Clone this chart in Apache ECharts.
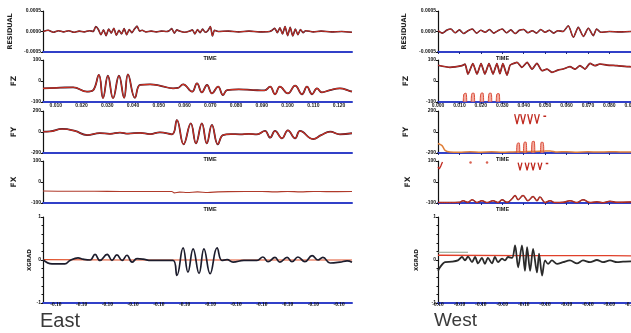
<!DOCTYPE html>
<html><head><meta charset="utf-8">
<script src="https://cdn.jsdelivr.net/npm/echarts@6/dist/echarts.min.js"></script>
<style>html,body{margin:0;padding:0;background:#fff}#c{width:631px;height:333px}</style>
</head><body><div id="c"></div>
<script>
// ---------- data ----------
const panelNames = ['RESIDUAL','FZ','FY','FX','XGRAD'];
const yMin = [-0.0005,-100,-200,-100,-1];
const yMax = [0.0005,100,200,100,1];
const yStep = [0.0005,100,200,100,1];
const eastTickLabels = ['0.010','0.020','0.030','0.040','0.050','0.060','0.070','0.080','0.090','0.100','0.110','0.120'];
const westTickLabels = ['0.000','0.010','0.020','0.030','0.040','0.050','0.060','0.070','0.080','0.090','0.100','0.110','0.120'];
const xgradTickLabels = ['-0.10','-0.10','-0.10','-0.10','-0.10','-0.10','-0.10','-0.10','-0.10','-0.10','-0.10','-0.10','-0.10'];
const timeName = 'TIME';
const columnTitles = ['East','West'];

const eastResidual = [[0,0],[2,0.00003],[4,-0.00002],[6,0.00002],[8,-0.00001],[10,0.00002],[12,-0.00002],[14,0.00001],[16,-0.00001],[18,0.00002],[19.5,0],[20.5,0.00012],[21.5,0.00005],[22.5,-0.00008],[23.5,0.00004],[24.5,-0.0001],[25.5,0.00006],[26.5,-0.00004],[27.5,0.00008],[28.5,-0.00009],[29.5,0.00003],[30.5,-0.00006],[31.5,0.00007],[32.5,-0.00008],[33.5,0.00005],[34.5,-0.00003],[35.5,0.00006],[36.5,0.00013],[37.5,0.00001],[38.5,0.00003],[40,-0.00001],[42,0.00001],[44,-0.00001],[46,0.00001],[48,0],[49,0.00002],[50,0.00007],[51,-0.00004],[52,0.00004],[53,0.00001],[55,-0.00002],[57,0.00001],[58,0.00004],[59,-0.00006],[60,0.00005],[61,-0.00003],[62,0.00006],[63,-0.00002],[64,0.00002],[65,0.00012],[65.8,-0.00011],[66.6,0.00003],[68,0],[72,0.00001],[76,-0.00001],[80,0.00001],[84,-0.00001],[88,0],[89,0.00003],[90,0.00008],[91,-0.00003],[92,0.00009],[93,-0.00006],[94,0.00012],[95,-0.0001],[96,0.0001],[97,-0.00011],[98,0.00006],[99,-0.00008],[100,0.00005],[101,-0.00003],[102,0.00002],[105,-0.00001],[108,0.00001],[112,-0.00001],[116,0],[120,-0.00002]];
const eastFZ = [[0,-35],[6.6,-32],[11.7,-30],[17.1,-51],[19.4,-45],[21.7,29],[23.3,-82],[25.2,25],[27.2,-82],[29.5,25],[31.5,-80],[33,32],[35.7,-80],[37.7,-19],[41.6,-16],[46,-24],[50.5,-35],[52.4,-33],[54.4,-16],[57.9,-51],[59.8,-11],[61.7,-54],[63.7,-19],[65.6,-59],[68,-27],[69.9,-67],[71.5,-43],[76,-40],[81.6,-43],[86,-45],[88.2,-27],[90.1,-63],[92,-27],[95.1,-59],[97.9,-22],[100.6,-63],[102.5,-27],[104.5,-63],[106.4,-35],[108.3,-54],[111.5,-43],[115.3,-35],[119.2,-48],[120,-50]];
const eastFY = [[0,3],[2.7,5],[7.4,29],[12.4,10],[17.1,-29],[22.1,-10],[26,-18],[29.9,-5],[33,-15],[37.7,-8],[41.6,-20],[45.4,-3],[50.1,-22],[52,114],[54.6,-117],[57.4,83],[59.4,-108],[61.7,83],[63.6,-108],[65.6,67],[67.9,-117],[69.9,-29],[73,-20],[76.5,-22],[80,-18],[83.1,-22],[86.2,10],[88.2,-54],[90.1,10],[92.8,-60],[95.1,16],[97.9,-60],[99.8,10],[104.9,-67],[108,-30],[111.5,3],[115.3,-22],[120,-12]];
const eastFX = [[0,-43],[10,-44],[20,-44],[30,-45],[40,-45],[50,-45],[51,-52],[53,-48],[56,-50],[60,-47],[64,-50],[68,-47],[72,-46],[85,-45],[90,-47],[95,-45],[100,-47],[105,-45],[110,-46],[120,-45]];
const eastXgrad = [[0,0.01],[3.5,-0.09],[8.5,-0.09],[10.5,-0.01],[13.6,0.05],[15.5,0.02],[18.3,0],[20.2,0.13],[22.1,-0.01],[24.9,0.13],[26.8,-0.01],[28.7,0.12],[30.7,-0.01],[32.6,0.11],[34.6,-0.05],[36.5,0.03],[38.8,0.02],[42,-0.01],[50.5,-0.01],[52,-0.36],[54.4,0.28],[56.3,-0.28],[58.3,0.26],[60.6,-0.31],[62.5,0.26],[64.9,-0.32],[67.6,0.28],[69.5,-0.01],[71.5,0.01],[73.8,-0.05],[78,-0.01],[83.1,-0.01],[85.4,0.07],[87.4,-0.04],[90.1,0.06],[92,-0.05],[94.8,0.06],[96.7,-0.04],[99,0.07],[101.7,-0.04],[104.5,0.1],[106.8,0],[108.7,0.06],[111.5,-0.07],[115.3,-0.05],[118.1,-0.02],[120,-0.05]];
const eastXgradRef = [[0,0.01],[30,0],[60,0],[90,0],[120,0]];

const westResidual = [[0,0.00002],[2,-0.00004],[4,0.00003],[6,0.00006],[8,-0.00003],[10,0.00004],[12,-0.00005],[14,0.00002],[16,0.00006],[18,-0.00004],[20,0.00003],[22,-0.00002],[24,0.00005],[26,-0.00004],[28,0.00002],[30,0.00006],[32,-0.00003],[34,0.00004],[36,-0.00005],[38,0.00003],[40,0.00005],[42,-0.00003],[44,0.00002],[46,-0.00004],[48,0.00005],[50,-0.00002],[52,0.00003],[54,-0.00004],[56,0.00002],[58.4,0],[60.8,0.00014],[63.2,-0.00014],[65.5,0.0001],[67.9,-0.00012],[70.2,0.00008],[72.5,-0.0001],[74.1,0.00006],[76,-0.00002],[80,0],[85,-0.00001],[90,0],[120,0]];
const westFZ = [[0,75],[5.6,65],[11.2,73],[12.6,80],[14,33],[16.3,83],[18.2,33],[20.1,83],[21.9,33],[23.8,83],[25.7,33],[27.5,83],[28.9,35],[30.3,83],[32.2,28],[33.6,75],[34.6,81],[36.9,89],[39.2,65],[41.6,89],[43.9,57],[46.2,84],[48.6,49],[50.9,57],[53.2,41],[56,52],[58.4,57],[61.6,68],[64,57],[66.3,73],[68.6,57],[71,84],[73.3,73],[75.6,81],[78.9,76],[83.6,73],[89.6,68],[100,66],[120,66]];
const westFZPeaks = [[11.8,-100],[12.1,-62],[13.1,-58],[13.4,-100],[14,'-'],[15.5,-100],[15.8,-60],[16.8,-58],[17.1,-100],[18,'-'],[19.7,-100],[20,-60],[21,-57],[21.3,-100],[22,'-'],[23.5,-100],[23.8,-60],[24.8,-58],[25.1,-100],[26,'-'],[27.2,-100],[27.5,-62],[28.5,-60],[28.8,-100]];
const westFY = [[0,-110],[1.9,-130],[3.3,-175],[5.6,-190],[10,-192],[15,-188],[20,-192],[25,-189],[30,-193],[35,-190],[40,-188],[45,-185],[50,-182],[52.3,-180],[55.6,-190],[60,-188],[65,-192],[70,-189],[75,-191],[80,-188],[85,-190],[90,-191],[100,-190],[120,-190]];
const westFYPeaks = [[36.7,-200],[37,-110],[37.9,-104],[38.2,-200],[38.8,'-'],[39.9,-200],[40.2,-100],[41.1,-96],[41.4,-200],[42,'-'],[43.7,-200],[44,-92],[44.9,-89],[45.2,-200],[46,'-'],[47.9,-200],[48.2,-98],[49.1,-100],[49.4,-200]];
const westFYVees = [[35.8,171],[36.9,76],[38,171],[38.5,'-'],[38.6,171],[39.7,76],[40.8,171],[41.3,'-'],[41.9,171],[43,76],[44.1,171],[44.6,'-'],[45.1,171],[46.2,80],[47.3,171],[48,'-'],[49.2,150],[50.5,150]];
const westFX = [[0,-98],[5,-98],[10,-97],[11.7,-89],[14,-97],[15.9,-84],[18.2,-98],[20.5,-89],[22.9,-98],[25.7,-89],[28,-98],[29.9,-85],[32.2,-97],[34.6,-80],[36,-64],[37.4,-84],[39.7,-64],[42,-89],[44.4,-69],[46.2,-89],[47.6,-72],[50,-98],[52.3,-89],[54.6,-98],[58.4,-97],[61.6,-89],[64.9,-98],[67.7,-85],[71,-98],[74.2,-94],[77,-99],[80.3,-92],[83.6,-97],[89.6,-95],[100,-96],[120,-96]];
const westFXVees = [[0,72],[0.6,62],[1.4,78],[2.1,95],[2.5,'-'],[37.4,92],[38.3,56],[39.2,92],[39.8,'-'],[40.7,92],[41.6,56],[42.5,92],[43,'-'],[43.5,92],[44.4,56],[45.3,92],[46,'-'],[46.7,92],[47.6,58],[48.5,92],[49.5,'-'],[50.3,88],[51.5,88]];
const westFXDots = [[15.2,93],[22.9,93]];
const westXgrad = [[0,-0.25],[0.9,-0.17],[3.3,-0.05],[6.5,-0.04],[9.3,-0.01],[11.2,0.07],[12.6,-0.01],[14,0.08],[15.9,-0.05],[17.3,0.07],[18.7,-0.08],[20.5,0.05],[21.9,-0.09],[23.3,0.05],[25.2,-0.08],[26.6,0.07],[28,-0.05],[29.9,0.03],[31.3,-0.01],[32.7,0.07],[34.6,0.05],[36,0.34],[37.4,-0.17],[39.2,0.34],[40.6,-0.25],[41.6,0.3],[43,-0.25],[44.4,0.26],[46.2,-0.29],[47.2,0.15],[48.6,-0.36],[50,-0.01],[51.4,-0.09],[53.2,-0.01],[55.6,-0.09],[58.4,-0.05],[61.6,-0.01],[64.9,-0.08],[67.7,-0.01],[71,-0.05],[74.2,0],[77,-0.05],[80.3,-0.01],[83.6,-0.05],[86.4,-0.04],[90.1,-0.03],[100,-0.03],[120,-0.03]];
const westXgradRef = [[0,0.11],[40,0.1],[80,0.1],[120,0.09]];
const westXgradGuide = [[0,0.18],[14,0.18]];

// ---------- chart ----------
const tops = [11, 60, 111, 161, 217];
const heights = [41, 42, 42, 42, 86];
const cols = [{left:43, width:309, nameGapY:[29,25,25,25,10]}, {left:438, width:257, nameGapY:[30,28,28,26,18]}];
const AXIS_BLUE = '#3140c8';
const grid = [], xAxis = [], yAxis = [], series = [];
const idx = [[],[]];

cols.forEach((col, ci) => {
  panelNames.forEach((nm, pi) => {
    const gi = grid.length;
    grid.push({left: col.left, top: tops[pi], width: col.width, height: heights[pi], outerBoundsMode: 'none', containLabel: false});
    const showName = (pi === 0 || pi === 2 || pi === 3);
    const showLabels = (pi === 1 || pi === 4);
    const labelStyle = pi === 4
      ? {fontSize: 5.5, fontWeight: 'bold', color: '#111', margin: -1, fontFamily: 'Liberation Sans Narrow'}
      : {fontSize: 5, fontWeight: 'bold', color: '#1a1a1a', margin: 1, fontFamily: 'Liberation Sans'};
    const nameStyle = {fontSize: 5.5, fontWeight: 'bold', color: '#111', fontFamily: 'Liberation Sans',
      padding: ci === 0 ? [0,0,0,25] : [0,128,0,0]};
    let dataX;
    if (ci === 0) {
      dataX = xAxis.length;
      xAxis.push({type: 'value', gridIndex: gi, position: 'bottom', min: 0, max: 120, show: false});
      xAxis.push({type: 'category', gridIndex: gi, position: 'bottom', data: eastTickLabels, boundaryGap: true,
        axisLine: {onZero: false, lineStyle: {color: AXIS_BLUE, width: 2}},
        axisTick: {alignWithLabel: true, length: 2, lineStyle: {color: '#1e2a80'}},
        axisLabel: Object.assign({show: showLabels, interval: 0,
          formatter: pi === 4 ? ((v, i) => xgradTickLabels[i]) : undefined}, labelStyle),
        name: showName ? timeName : '', nameLocation: 'middle', nameGap: 3, nameTextStyle: nameStyle});
    } else {
      dataX = xAxis.length;
      xAxis.push({type: 'value', gridIndex: gi, position: 'bottom', min: 0, max: 120, interval: 10,
        axisLine: {onZero: false, lineStyle: {color: AXIS_BLUE, width: 2}},
        axisTick: {length: 2, lineStyle: {color: '#1e2a80'}},
        splitLine: {show: false},
        axisLabel: Object.assign({show: showLabels,
          formatter: v => (pi === 4 ? xgradTickLabels : westTickLabels)[Math.round(v / 10)]}, labelStyle),
        name: showName ? timeName : '', nameLocation: 'middle', nameGap: 3, nameTextStyle: nameStyle});
    }
    const yi = yAxis.length;
    yAxis.push({type: 'value', gridIndex: gi, position: 'left', min: yMin[pi], max: yMax[pi], interval: yStep[pi],
      axisLine: {show: true, onZero: false, lineStyle: {color: '#111', width: 1.2}},
      axisTick: {show: true, length: 2, lineStyle: {color: '#111'}},
      minorTick: {show: pi === 4, splitNumber: 5, length: 1.5, lineStyle: {color: '#111'}},
      splitLine: {show: false},
      axisLabel: {fontSize: 5, fontWeight: 'bold', color: '#111', margin: 2, fontFamily: 'Liberation Sans',
        formatter: pi === 0 ? (v => v.toFixed(4)) : (v => String(v))},
      name: nm, nameLocation: 'middle', nameRotate: 90, nameGap: col.nameGapY[pi],
      nameTextStyle: {fontSize: pi === 0 ? 6.5 : (pi === 4 ? 5.5 : 7.5), fontWeight: 'bold', color: '#222', fontFamily: 'DejaVu Sans'}});
    idx[ci].push([dataX, yi]);
  });
});

function line(ci, pi, data, color, width, smooth, extra) {
  series.push(Object.assign({type: 'line', xAxisIndex: idx[ci][pi][0], yAxisIndex: idx[ci][pi][1],
    data: data, symbol: 'none', smooth: smooth, connectNulls: false,
    lineStyle: {color: color, width: width}, animation: false}, extra || {}));
}
const DARK = '#3a1a30', RED = '#d0301f';
// East
line(0, 0, eastResidual, DARK, 1.6, 0.2);
line(0, 0, eastResidual, RED, 1, 0.2);
line(0, 1, eastFZ, DARK, 1.8, 0.45);
line(0, 1, eastFZ, RED, 1.1, 0.45);
line(0, 2, eastFY, DARK, 1.8, 0.45);
line(0, 2, eastFY, RED, 1.1, 0.45);
line(0, 3, eastFX, '#b03a2a', 1.1, 0.3);
line(0, 4, eastXgradRef, '#e0502a', 1.2, false);
line(0, 4, eastXgrad, '#1c1c2c', 1.7, 0.45);
// West
line(1, 0, westResidual, DARK, 1.6, 0.25);
line(1, 0, westResidual, RED, 1, 0.25);
line(1, 1, westFZ, '#5a1620', 1.7, 0.2);
line(1, 1, westFZ, '#c83025', 1, 0.2);
line(1, 1, westFZPeaks, '#d84a38', 1, 0.3, {areaStyle: {color: '#f08a78', origin: 'start'}});
line(1, 2, westFY, '#e0803a', 1.5, 0.3);
line(1, 2, westFYPeaks, '#d84a38', 1, 0.3, {areaStyle: {color: '#f08a78', origin: 'start'}});
line(1, 2, westFYVees, '#c02a20', 1.3, false);
line(1, 3, westFX, '#7a1a20', 1.5, 0.4);
line(1, 3, westFX, '#d03a25', 0.9, 0.4);
line(1, 3, westFXVees, '#c02a20', 1.3, false);
series.push({type: 'scatter', xAxisIndex: idx[1][3][0], yAxisIndex: idx[1][3][1], data: westFXDots,
  symbolSize: 2.5, itemStyle: {color: '#d03a25'}, animation: false});
line(1, 4, westXgradGuide, '#8aa08a', 1, false);
line(1, 4, westXgradRef, '#e0402a', 1.3, false);
line(1, 4, westXgrad, '#2a2a2a', 1.8, 0.3);

const chart = echarts.init(document.getElementById('c'), null, {renderer: 'canvas'});
chart.setOption({
  animation: false,
  backgroundColor: '#fff',
  grid: grid, xAxis: xAxis, yAxis: yAxis, series: series,
  graphic: [
    {type: 'text', left: 40, top: 311, style: {text: columnTitles[0], fontSize: 20, fontFamily: 'Liberation Sans', fill: '#3a3a3a'}},
    {type: 'text', left: 434, top: 311, style: {text: columnTitles[1], fontSize: 19, fontFamily: 'Liberation Sans', fill: '#3a3a3a'}}
  ]
});
</script>
</body></html>
